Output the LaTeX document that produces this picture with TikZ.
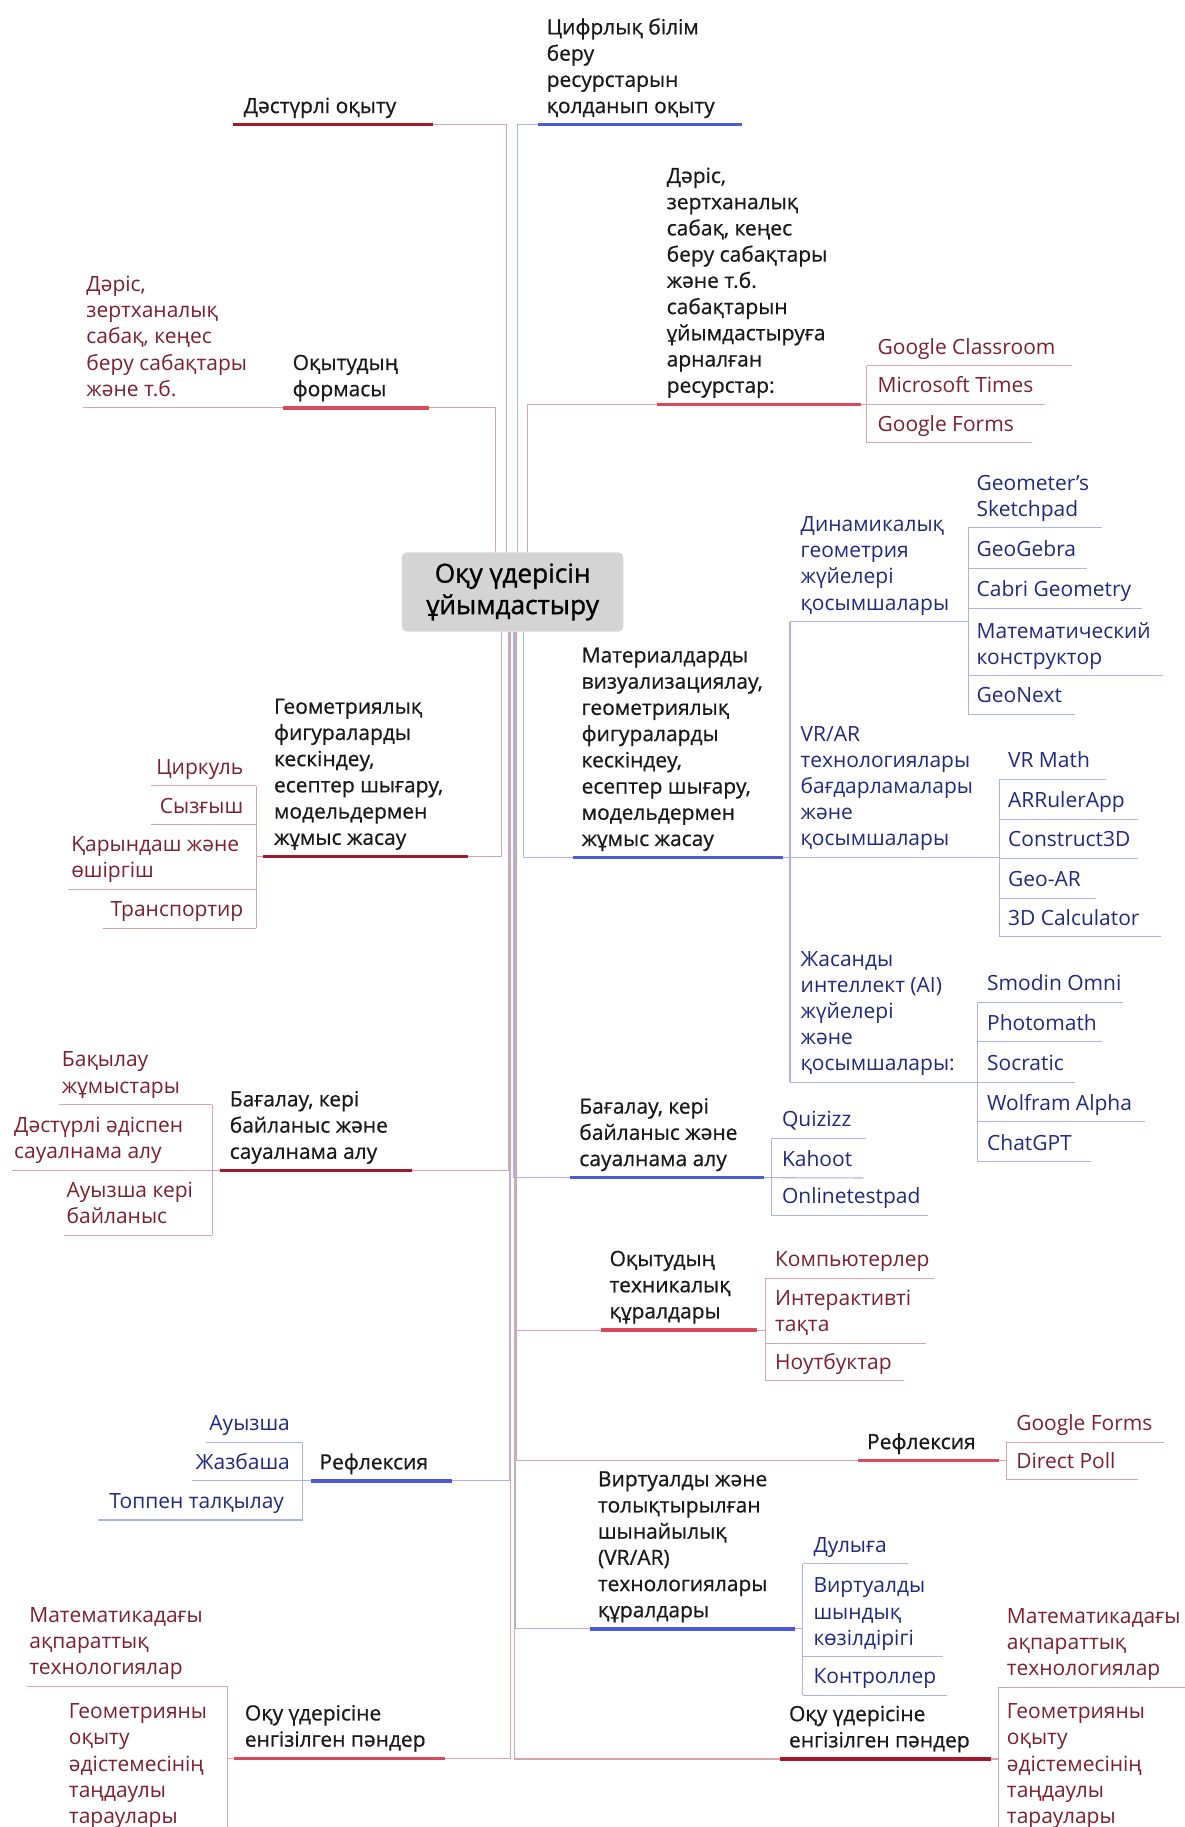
\documentclass[tikz,border=0pt]{standalone}
\usepackage{fontspec}
\setmainfont{Open Sans}
\newfontfamily\medfam{Open Sans}[FakeBold=0.6]
\newfontfamily\rootfam{Open Sans}[FakeBold=1.2]
\definecolor{redD}{HTML}{A01A2C}
\definecolor{redL}{HTML}{D84A5A}
\definecolor{blueT}{HTML}{4A5AD8}
\definecolor{thinRed}{HTML}{D9A3AA}
\definecolor{thinBlue}{HTML}{AAB3E3}
\definecolor{leafRed}{HTML}{7A2030}
\definecolor{leafBlue}{HTML}{1F2A7A}
\definecolor{rootFill}{HTML}{D4D4D4}
\newcommand\lblfont{\fontsize{18}{22.5}\selectfont}
\tikzset{
  lbl/.style={font=\medfam\lblfont, inner sep=0pt, align=left, text=black!90, anchor=south west, execute at end node=\strut},
  leafR/.style={lbl, font=\lblfont, text=leafRed},
  leafB/.style={lbl, font=\lblfont, text=leafBlue},
  thickRd/.style={draw=redD, line width=3pt},
  thickRl/.style={draw=redL, line width=3pt},
  thickB/.style={draw=blueT, line width=3pt},
  thinR/.style={draw=thinRed, line width=0.9pt},
  thinB/.style={draw=thinBlue, line width=0.9pt},
}
\begin{document}
\begin{tikzpicture}[x=1pt,y=-1pt]
\useasboundingbox (0,0) rectangle (1017,1568);

% root
\node[fill=rootFill, rounded corners=4pt, minimum width=190pt, minimum height=68pt, inner sep=0pt,
      align=center, font=\rootfam\fontsize{22.5}{27}\selectfont] (root) at (440,508) {Оқу үдерісін\\ұйымдастыру};

% ================= LEFT =================
% Дәстүрлі оқыту
\node[lbl] (dast) at (209,104) {Дәстүрлі оқыту};
\coordinate (dastA) at (200,107); \coordinate (dastE) at (372,107);
\draw[thinR] ([xshift=-5pt]root.north) |- (dastE);
\draw[thickRd] (dastA) -- (dastE);

% Оқытудың формасы
\node[lbl] (form) at (251,347) {Оқытудың\\формасы};
\coordinate (formA) at (243,350); \coordinate (formE) at (368,350);
\draw[thinR] ([xshift=-14.5pt]root.north) |- (formE);
\node[leafR] (darL) at (74,347) {Дәріс,\\зертханалық\\сабақ, кеңес\\беру сабақтары\\және т.б.};
\coordinate (darLA) at (71,350);
\draw[thinR] (darLA) -- (formA);
\draw[thickRl] (formA) -- (formE);

% Геометриялық
\node[lbl] (geo) at (235,732) {Геометриялық\\фигураларды\\кескіндеу,\\есептер шығару,\\модельдермен\\жұмыс жасау};
\coordinate (geoA) at (226,735); \coordinate (geoE) at (402,735);
\coordinate (geoV1) at (220,674.5); \coordinate (geoV4) at (220,796.5); \coordinate (geoVm) at (220,735);
\draw[thinR] ([xshift=-10pt]root.south) |- (geoE);
\draw[thinR] (geoV1) -- (geoV4);
\draw[thinR] (geoVm) -- (geoA);
\node[leafR, anchor=south east] (cirk) at (209,671.5) {Циркуль};
\draw[thinR] (130,674.5) -- (geoV1);
\node[leafR, anchor=south east] (syz) at (209,705) {Сызғыш};
\draw[thinR] (130,708) -- (220,708);
\node[leafR] (qar) at (61,760) {Қарындаш және\\өшіргіш};
\draw[thinR] (58,763) -- (220,763);
\node[leafR, anchor=south east] (trans) at (209,793.5) {Транспортир};
\draw[thinR] (88,796.5) -- (geoV4);
\draw[thickRd] (geoA) -- (geoE);

% Бағалау (left)
\node[lbl] (bagL) at (197,1001.5) {Бағалау, кері\\байланыс және\\сауалнама алу};
\coordinate (bagLA) at (189,1004.5); \coordinate (bagLE) at (354,1004.5);
\coordinate (bagLV1) at (182,948); \coordinate (bagLV3) at (182,1060);
\draw[thinR] ([xshift=-4pt]root.south) |- (bagLE);
\draw[thinR] (bagLV1) -- (bagLV3);
\node[leafR] (bak) at (53,945) {Бақылау\\жұмыстары};
\draw[thinR] (51,948) -- (bagLV1);
\node[leafR] (dadis) at (12,1001.5) {Дәстүрлі әдіспен\\сауалнама алу};
\draw[thinR] (10,1004.5) -- (bagLA);
\node[leafR] (auyzk) at (57,1057) {Ауызша кері\\байланыс};
\draw[thinR] (55,1060) -- (bagLV3);
\draw[thickRd] (bagLA) -- (bagLE);

% Рефлексия (left)
\node[lbl] (refL) at (274,1268) {Рефлексия};
\coordinate (refLA) at (267,1271); \coordinate (refLE) at (388,1271);
\coordinate (refLV1) at (260,1238); \coordinate (refLV3) at (260,1304.5);
\draw[thinB] ([xshift=-3pt]root.south) |- (refLE);
\draw[thinB] (refLV1) -- (refLV3);
\node[leafB, anchor=south east] (auyz) at (249,1235) {Ауызша};
\draw[thinB] (177,1238) -- (refLV1);
\node[leafB, anchor=south east] (jaz) at (249,1268) {Жазбаша};
\draw[thinB] (165,1271) -- (refLA);
\node[leafB, anchor=south east] (top) at (244,1301.5) {Топпен талқылау};
\draw[thinB] (84.5,1304.5) -- (refLV3);
\draw[thickB] (refLA) -- (refLE);

% Оқу үдерісіне (left)
\node[lbl] (okuL) at (210,1506) {Оқу үдерісіне\\енгізілген пәндер};
\coordinate (okuLA) at (201,1509); \coordinate (okuLE) at (382,1509);
\coordinate (okuLV1) at (195,1447); \coordinate (okuLV2) at (195,1570);
\draw[thinR] ([xshift=-2pt]root.south) |- (okuLE);
\draw[thinR] (okuLV1) -- (okuLV2);
\draw[thinR] (195,1509) -- (okuLA);
\node[leafR] (matL) at (25,1444) {Математикадағы\\ақпараттық\\технологиялар};
\draw[thinR] (23,1447) -- (okuLV1);
\node[leafR] (geomL) at (59,1572) {Геометрияны\\оқыту\\әдістемесінің\\таңдаулы\\тараулары};
\draw[thickRl] (okuLA) -- (okuLE);

% ================= RIGHT =================
% Цифрлық
\node[lbl] (cif) at (469,104) {Цифрлық білім\\беру\\ресурстарын\\қолданып оқыту};
\coordinate (cifA) at (462,107); \coordinate (cifE) at (637,107);
\draw[thinB] ([xshift=4.5pt]root.north) |- (cifA);
\draw[thickB] (cifA) -- (cifE);

% ресурстар
\node[lbl] (res) at (572,344) {Дәріс,\\зертханалық\\сабақ, кеңес\\беру сабақтары\\және т.б.\\сабақтарын\\ұйымдастыруға\\арналған\\ресурстар:};
\coordinate (resA) at (564,347); \coordinate (resE) at (739,347);
\coordinate (resV1) at (744,314); \coordinate (resV3) at (744,380);
\draw[thinR] ([xshift=13pt]root.north) |- (resA);
\draw[thinR] (resV1) -- (resV3);
\node[leafR] (gcl) at (753,311) {Google Classroom};
\draw[thinR] (resV1) -- (920,314);
\node[leafR] (mst) at (753,344) {Microsoft Times};
\draw[thinR] (resE) -- (897,347);
\node[leafR] (gf1) at (753,377) {Google Forms};
\draw[thinR] (resV3) -- (886,380);
\draw[thickRl] (resA) -- (resE);

% Материалдарды
\node[lbl] (mat) at (499,733) {Материалдарды\\визуализациялау,\\геометриялық\\фигураларды\\кескіндеу,\\есептер шығару,\\модельдермен\\жұмыс жасау};
\coordinate (matA) at (492,736); \coordinate (matE) at (672,736);
\coordinate (matV1) at (678,533.5); \coordinate (matV3) at (678,929);
\draw[thinB] ([xshift=9pt]root.south) |- (matA);
\draw[thinB] (matV1) -- (matV3);
\draw[thickB] (matA) -- (matE);

% Динамикалық
\node[leafB] (dyn) at (687,530.5) {Динамикалық\\геометрия\\жүйелері\\қосымшалары};
\coordinate (dynE) at (831,533.5);
\coordinate (dynV1) at (831,453); \coordinate (dynV5) at (831,613);
\draw[thinB] (matV1) -- (dynE);
\draw[thinB] (dynV1) -- (dynV5);
\node[leafB] (gsp) at (838,450) {Geometer’s\\Sketchpad};
\draw[thinB] (dynV1) -- (946,453);
\node[leafB] (ggb) at (838,484.6) {GeoGebra};
\draw[thinB] (831,487.6) -- (933,487.6);
\node[leafB] (cab) at (838,519) {Cabri Geometry};
\draw[thinB] (831,522) -- (980,522);
\node[leafB] (mk) at (838,577) {Математический\\конструктор};
\draw[thinB] (831,580) -- (998,580);
\node[leafB] (gnx) at (838,610) {GeoNext};
\draw[thinB] (dynV5) -- (923,613);

% VR/AR
\node[leafB] (vrar) at (687,733) {VR/AR\\технологиялары\\бағдарламалары\\және\\қосымшалары};
\coordinate (vrarE) at (858,736);
\coordinate (vrarV1) at (858,668.6); \coordinate (vrarV5) at (858,804);
\draw[thinB] (matE) -- (vrarE);
\draw[thinB] (vrarV1) -- (vrarV5);
\node[leafB] (vrm) at (865,665.6) {VR Math};
\draw[thinB] (vrarV1) -- (949,668.6);
\node[leafB] (arr) at (865,700) {ARRulerApp};
\draw[thinB] (858,703) -- (977,703);
\node[leafB] (c3d) at (865,733.5) {Construct3D};
\draw[thinB] (858,736.5) -- (977,736.5);
\node[leafB] (gar) at (865,768) {Geo-AR};
\draw[thinB] (858,771) -- (941,771);
\node[leafB] (d3c) at (865,801) {3D Calculator};
\draw[thinB] (vrarV5) -- (996,804);

% AI
\node[leafB] (ai) at (687,926) {Жасанды\\интеллект (AI)\\жүйелері\\және\\қосымшалары:};
\coordinate (aiE) at (839,929);
\coordinate (aiV1) at (839,860); \coordinate (aiV5) at (839,997);
\draw[thinB] (matV3) -- (aiE);
\draw[thinB] (aiV1) -- (aiV5);
\node[leafB] (smo) at (847,857) {Smodin Omni};
\draw[thinB] (aiV1) -- (964,860);
\node[leafB] (pho) at (847,891) {Photomath};
\draw[thinB] (839,894) -- (946,894);
\node[leafB] (soc) at (847,926) {Socratic};
\draw[thinB] (aiE) -- (923,929);
\node[leafB] (wol) at (847,959.6) {Wolfram Alpha};
\draw[thinB] (839,962.6) -- (983,962.6);
\node[leafB] (cgpt) at (847,994) {ChatGPT};
\draw[thinB] (aiV5) -- (936,997);

% Бағалау (right)
\node[lbl] (bagR) at (497,1007.7) {Бағалау, кері\\байланыс және\\сауалнама алу};
\coordinate (bagRA) at (489,1010.7); \coordinate (bagRE) at (655.5,1010.7);
\coordinate (bagRV1) at (662,977); \coordinate (bagRV3) at (662,1043);
\draw[thinB] ([xshift=1pt]root.south) |- (bagRA);
\draw[thinB] (bagRV1) -- (bagRV3);
\node[leafB] (qui) at (671,974) {Quizizz};
\draw[thinB] (bagRV1) -- (743,977);
\node[leafB] (kah) at (671,1008) {Kahoot};
\draw[thinB] (bagRE) -- (741,1011);
\node[leafB] (olt) at (671,1040) {Onlinetestpad};
\draw[thinB] (bagRV3) -- (796.5,1043);
\draw[thickB] (bagRA) -- (bagRE);

% Оқытудың техникалық құралдары
\node[lbl] (tech) at (523,1138.5) {Оқытудың\\техникалық\\құралдары};
\coordinate (techA) at (515.5,1141.5); \coordinate (techE) at (650,1141.5);
\coordinate (techV1) at (656.6,1097); \coordinate (techV3) at (656.6,1185);
\draw[thinR] ([xshift=2pt]root.south) |- (techA);
\draw[thinR] (techV1) -- (techV3);
\draw[thinR] (techE) -- (656.6,1141.5);
\node[leafR] (komp) at (665,1094) {Компьютерлер};
\draw[thinR] (techV1) -- (802,1097);
\node[leafR] (inter) at (665,1150) {Интерактивті\\тақта};
\draw[thinR] (656.6,1153) -- (794.5,1153);
\node[leafR] (nout) at (665,1182) {Ноутбуктар};
\draw[thinR] (techV3) -- (776,1185);
\draw[thickRl] (techA) -- (techE);

% Рефлексия (right)
\node[lbl] (refR) at (744,1250.6) {Рефлексия};
\coordinate (refRA) at (736.6,1253.6); \coordinate (refRE) at (857,1253.6);
\coordinate (refRV1) at (863.5,1237.7); \coordinate (refRV2) at (863.5,1270);
\draw[thinR] ([xshift=3pt]root.south) |- (refRA);
\draw[thinR] (refRV1) -- (refRV2);
\draw[thinR] (refRE) -- (863.5,1253.6);
\node[leafR] (gf2) at (872,1234.7) {Google Forms};
\draw[thinR] (refRV1) -- (999,1237.7);
\node[leafR] (dpoll) at (872,1267) {Direct Poll};
\draw[thinR] (refRV2) -- (977,1270);
\draw[thickRl] (refRA) -- (refRE);

% Виртуалды
\node[lbl] (virt) at (513,1395) {Виртуалды және\\толықтырылған\\шынайылық\\(VR/AR)\\технологиялары\\құралдары};
\coordinate (virtA) at (506,1398); \coordinate (virtE) at (682.6,1398);
\coordinate (virtV1) at (689,1342); \coordinate (virtV3) at (689,1455);
\draw[thinB] ([xshift=2.5pt]root.south) |- (virtA);
\draw[thinB] (virtV1) -- (virtV3);
\draw[thinB] (virtE) -- (689,1398);
\node[leafB] (dul) at (698,1339) {Дулыға};
\draw[thinB] (virtV1) -- (779,1342);
\node[leafB] (vsk) at (698,1419) {Виртуалды\\шындық\\көзілдірігі};
\draw[thinB] (689,1422) -- (809,1422);
\node[leafB] (kont) at (698,1452) {Контроллер};
\draw[thinB] (virtV3) -- (813,1455);
\draw[thickB] (virtA) -- (virtE);

% Оқу үдерісіне (right)
\node[lbl] (okuR) at (677,1506.6) {Оқу үдерісіне\\енгізілген пәндер};
\coordinate (okuRA) at (669.6,1509.6); \coordinate (okuRE) at (850.5,1509.6);
\coordinate (okuRV1) at (857,1448); \coordinate (okuRV2) at (857,1570);
\draw[thinR] ([xshift=1.5pt]root.south) |- (okuRA);
\draw[thinR] (okuRV1) -- (okuRV2);
\draw[thinR] (okuRE) -- (857,1509.6);
\node[leafR] (matR) at (864,1445) {Математикадағы\\ақпараттық\\технологиялар};
\draw[thinR] (okuRV1) -- (1017,1448);
\node[leafR] (geomR) at (864,1572) {Геометрияны\\оқыту\\әдістемесінің\\таңдаулы\\тараулары};
\draw[thickRd] (okuRA) -- (okuRE);
\end{tikzpicture}
\end{document}
